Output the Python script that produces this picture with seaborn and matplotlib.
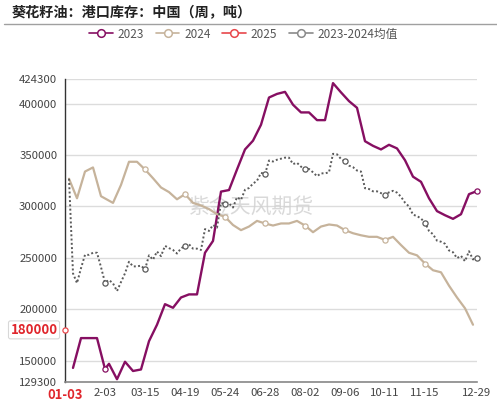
import pandas as pd
import matplotlib
matplotlib.use('Agg')
import matplotlib.pyplot as plt
from matplotlib.lines import Line2D
import seaborn as sns

# weekly report dates (month-day), the chart puts every date of every year on one category axis
dates_2023 = pd.date_range('2023-01-06', '2023-12-29', freq='7D').strftime('%m-%d').tolist()
dates_2024 = [d for d in pd.date_range('2024-01-05', '2024-12-27', freq='7D').strftime('%m-%d') if d != '02-09']
dates_2025 = ['01-03']

stock_2023 = [143000, 172000, 172000, 172000, 142000, 147000, 132000, 149000, 140000, 141500,
              169000, 185000, 205000, 201500, 211500, 214500, 214500, 255000, 266500, 314500,
              316000, 336000, 355500, 364000, 379500, 406000, 409500, 411500, 399000, 391500,
              391500, 384000, 384000, 420000, 411000, 402500, 396000, 363500, 359000, 355500,
              360000, 356500, 345000, 329000, 324000, 308000, 295500, 291500, 288000, 292500,
              312000, 315000]
stock_2024 = [327000, 308000, 334000, 338000, 310000, 303500, 321000, 343500, 343500, 336000,
              327500, 318500, 314000, 307000, 312000, 303500, 301000, 297500, 292500, 290000,
              282000, 277000, 280500, 286000, 283500, 281500, 283500, 283500, 286000, 281500,
              275000, 280500, 282500, 281500, 277000, 274000, 272000, 270500, 270500, 267500,
              270500, 262500, 255000, 252500, 244500, 238000, 236000, 223000, 211500, 201000,
              185000]
stock_2025 = [180000]
# 2023-2024均值, one value on every category after 01-03
stock_avg = [327000, 235000, 225500, 240000, 253000, 253000, 255000, 255000, 241000, 226000,
             228500, 225250, 217750, 226500, 235000, 246250, 241750, 241750, 242500, 238750,
             252500, 248250, 256250, 251750, 261750, 259500, 257750, 254250, 259250, 261750,
             263250, 259000, 259000, 257750, 278000, 276250, 282000, 279500, 303500, 302250,
             303000, 299000, 309000, 306500, 316250, 318000, 322250, 325000, 332750, 331500,
             344750, 343750, 345500, 346500, 347500, 347500, 341250, 342500, 338750, 336500,
             336500, 333250, 329500, 332250, 332250, 333250, 351250, 350750, 346250, 344000,
             339750, 338250, 335000, 334000, 317750, 317000, 314750, 314750, 313000, 311500,
             313750, 315250, 313500, 309500, 303750, 300000, 292000, 290750, 288250, 284250,
             276250, 273000, 266750, 265750, 263750, 257250, 255500, 249750, 252000, 246750,
             256500, 248500, 250000]

x_tick_labels = ['01-03', '2-03', '03-15', '04-19', '05-24', '06-28', '08-02', '09-06', '10-11', '11-15', '12-29']
y_ticks = [129300, 150000, 200000, 250000, 300000, 350000, 400000, 424300]

categories = sorted(set(dates_2023) | set(dates_2024) | set(dates_2025))
dates_avg = categories[1:]

series = [
    ('2023', dates_2023, stock_2023, '#860F62', 1.7, '-'),
    ('2024', dates_2024, stock_2024, '#C6B39B', 1.6, '-'),
    ('2025', dates_2025, stock_2025, '#E8474B', 1.6, '-'),
    ('2023-2024均值', dates_avg, stock_avg, '#5A5A5A', 1.4, (0, (1, 1.2))),
]

sns.set_style('white')
plt.rcParams['font.family'] = ['Noto Sans CJK SC', 'DejaVu Sans']

fig = plt.figure(figsize=(4.97, 4.01), dpi=100)
ax = fig.add_axes([65 / 497, 1 - 382 / 401, 412 / 497, 303.3 / 401])

tick_pos = [categories.index(t.zfill(5)) for t in x_tick_labels]

for name, dts, vals, color, lw, ls in series:
    df = pd.DataFrame({'pos': [categories.index(d) for d in dts], 'value': vals})
    if len(df) > 1:
        sns.lineplot(data=df, x='pos', y='value', color=color, linewidth=lw,
                     linestyle=ls, ax=ax, zorder=3)
    # echarts shows symbols only on labelled categories
    mk = df[df['pos'].isin(tick_pos)]
    ax.scatter(mk['pos'], mk['value'], s=14, facecolor='white', edgecolor=color,
               linewidth=0.9, zorder=4, clip_on=False)

ax.set_xlim(0, len(categories) - 1)
ax.set_ylim(y_ticks[0], y_ticks[-1])
ax.set_yticks(y_ticks)
ax.set_yticklabels([str(v) for v in y_ticks])
ax.set_xticks(tick_pos)
ax.set_xticklabels(x_tick_labels)
ax.set_xlabel('')
ax.set_ylabel('')
ax.grid(axis='y', color='#DCDCDC', linewidth=1)
ax.grid(axis='x', visible=False)
ax.tick_params(axis='both', labelsize=8.2, labelcolor='#444444', length=3.5, width=1,
               color='#555555', direction='out')
ax.tick_params(axis='y', pad=2)
ax.tick_params(axis='x', pad=0.5)
for side in ['top', 'right']:
    ax.spines[side].set_visible(False)
ax.spines['left'].set_color('#333333')
ax.spines['bottom'].set_color('#888888')
ax.spines['left'].set_linewidth(1)
ax.spines['bottom'].set_linewidth(1.2)

# pointer labels for the latest point
first = ax.get_xticklabels()[0]
first.set_color('#E0262C')
first.set_fontweight('bold')
first.set_fontsize(9.3)
ax.text(-0.018, stock_2025[0], str(stock_2025[0]), transform=ax.get_yaxis_transform(),
        ha='right', va='center', color='#E0262C', fontsize=9.5, fontweight='bold',
        bbox=dict(boxstyle='round,pad=0.15', fc='white', ec='#D8D8D8', lw=0.8), zorder=6)

ax.text(0.452, 0.577, '紫金天风期货', transform=ax.transAxes, ha='center', va='center',
        fontsize=15, color='#D0D0D0', alpha=0.8, zorder=1)

fig.text(12 / 497, 1 - 13 / 401, '葵花籽油：港口库存：中国（周，吨）', ha='left', va='center',
         fontsize=10.2, fontweight='bold', color='#222222')
fig.add_artist(Line2D([4 / 497, 1], [1 - 24 / 401, 1 - 24 / 401], color='#A0A0A0', lw=1))

handles = [Line2D([], [], color=c, lw=1.2, marker='o', markersize=5.5, markerfacecolor='white',
                  markeredgecolor=c, markeredgewidth=1.1) for _, _, _, c, _, _ in series]
handles[3].set_color('#8A8A8A')
handles[3].set_markeredgecolor('#8A8A8A')
fig.legend(handles, [s[0] for s in series], loc='center', bbox_to_anchor=(0.49, 1 - 34 / 401),
           ncol=4, frameon=False, fontsize=8.5, handlelength=2.0, handletextpad=0.4,
           columnspacing=1.0, labelcolor='#555555')

fig.savefig('out.png', dpi=100)
